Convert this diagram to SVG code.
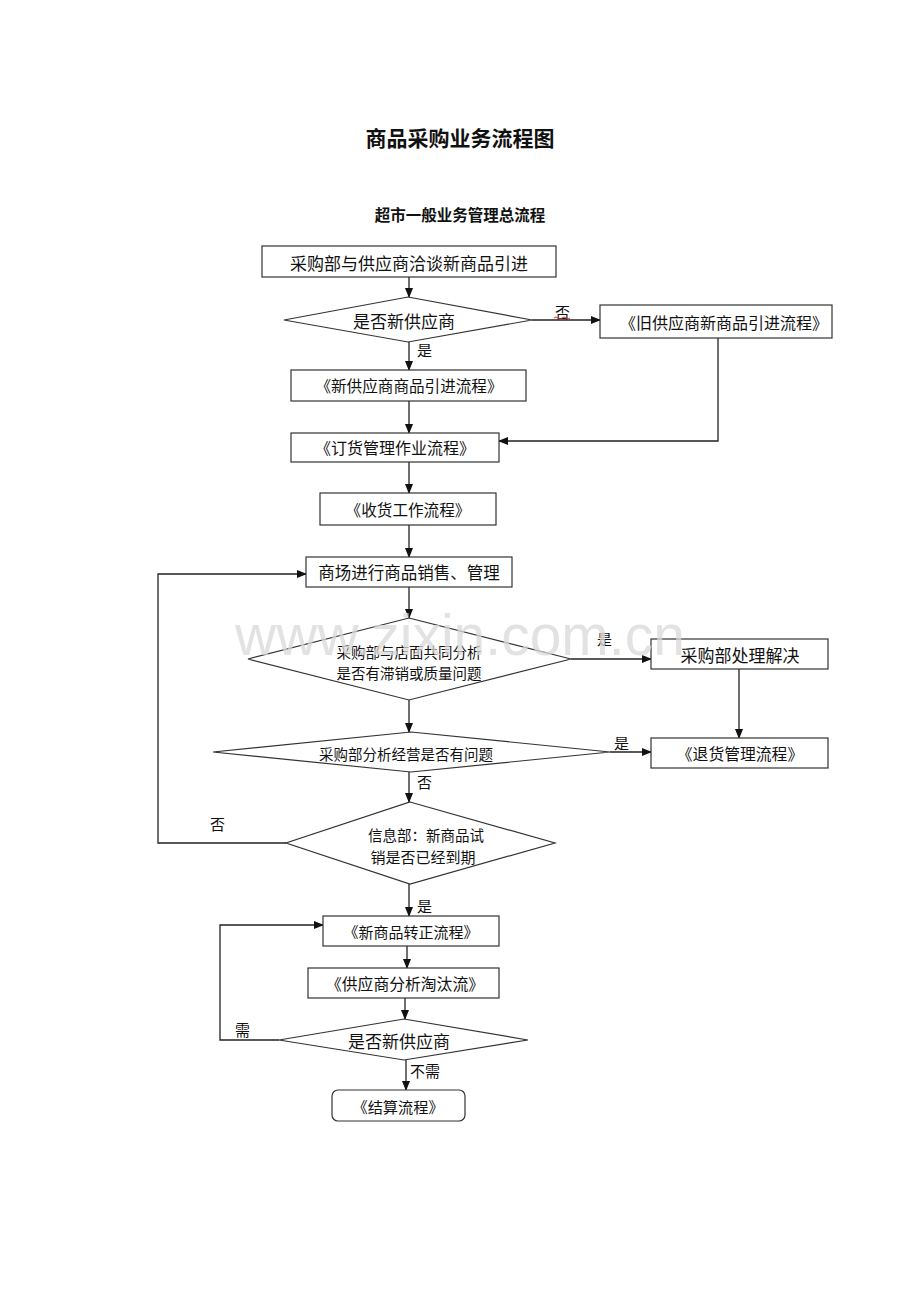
<svg xmlns="http://www.w3.org/2000/svg" width="920" height="1302" viewBox="0 0 920 1302">
<defs>
<marker id="ah" markerWidth="10" markerHeight="8" refX="9" refY="4" orient="auto" markerUnits="userSpaceOnUse">
<path d="M0,0 L10,4 L0,8 Z" fill="#111"/>
</marker>
<style>
.nd{fill:#fff;stroke:#333;stroke-width:1.2}
.t{font-family:"Noto Sans CJK SC",sans-serif;fill:#111;text-anchor:middle;dominant-baseline:central}
.lb{font-family:"Noto Sans CJK SC",sans-serif;fill:#111;font-size:15px;dominant-baseline:central}
.c{fill:none;stroke:#222;stroke-width:1.3}
.ca{fill:none;stroke:#222;stroke-width:1.3;marker-end:url(#ah)}
</style>
</defs>
<rect width="920" height="1302" fill="#fff"/>
<text class="t" x="460" y="137" font-size="21" font-weight="bold">商品采购业务流程图</text>
<text class="t" x="460" y="214" font-size="15.5" font-weight="bold">超市一般业务管理总流程</text>

<g id="connectors">
<path class="ca" d="M409,277 V297"/>
<path class="ca" d="M532,320 H600"/>
<path class="ca" d="M409,342 V370"/>
<path class="ca" d="M718,338 V441 H499"/>
<path class="ca" d="M409,401 V433"/>
<path class="ca" d="M409,462 V493"/>
<path class="ca" d="M409,525 V557"/>
<path class="ca" d="M409,587 V618"/>
<path class="ca" d="M571,659 H651"/>
<path class="ca" d="M739,669 V738"/>
<path class="ca" d="M409,700 V732"/>
<path class="ca" d="M610,752 H651"/>
<path class="ca" d="M409,772 V802"/>
<path class="ca" d="M286,843 H158 V574 H306"/>
<path class="ca" d="M409,884 V916"/>
<path class="ca" d="M407,946 V968"/>
<path class="ca" d="M405,998 V1019"/>
<path class="ca" d="M279,1040 H220 V925 H323"/>
<path class="ca" d="M406,1060 V1090"/>
<text class="lb" x="555" y="311">否</text>
<path d="M554,318 q2,-2 4,0 t4,0 t4,0 t4,0" fill="none" stroke="#d33" stroke-width="1"/>
<text class="lb" x="417" y="349">是</text>
<text class="lb" x="597" y="638">是</text>
<text class="lb" x="614" y="742">是</text>
<text class="lb" x="417" y="781">否</text>
<text class="lb" x="210" y="823">否</text>
<text class="lb" x="417" y="905">是</text>
<text class="lb" x="235" y="1029">需</text>
<text class="lb" x="410" y="1070">不需</text>
</g>

<g id="n1"><rect class="nd" x="262" y="246" width="294" height="31"/><text class="t" x="409" y="262" font-size="17">采购部与供应商洽谈新商品引进</text></g>
<g id="d1"><polygon class="nd" points="408,297 532,320 408,342 284,320"/><text class="t" x="404" y="320" font-size="17">是否新供应商</text></g>
<g id="n2"><rect class="nd" x="600" y="305" width="232" height="33"/><text class="t" x="724" y="322" font-size="16">《旧供应商新商品引进流程》</text></g>
<g id="n3"><rect class="nd" x="291" y="370" width="235" height="31"/><text class="t" x="409" y="385" font-size="15.6">《新供应商商品引进流程》</text></g>
<g id="n4"><rect class="nd" x="291" y="433" width="208" height="29"/><text class="t" x="395" y="447" font-size="16">《订货管理作业流程》</text></g>
<g id="n5"><rect class="nd" x="320" y="493" width="176" height="32"/><text class="t" x="408" y="509" font-size="15.6">《收货工作流程》</text></g>
<g id="n6"><rect class="nd" x="306" y="557" width="206" height="30"/><text class="t" x="409" y="572" font-size="16.5">商场进行商品销售、管理</text></g>
<g id="d2"><polygon class="nd" points="409,618 571,659 409,700 248,659"/><text class="t" x="409" y="651" font-size="14.5">采购部与店面共同分析</text><text class="t" x="409" y="672" font-size="14.5">是否有滞销或质量问题</text></g>
<g id="n7"><rect class="nd" x="651" y="639" width="177" height="30"/><text class="t" x="740" y="654" font-size="17">采购部处理解决</text></g>
<g id="d3"><polygon class="nd" points="411,732 610,752 411,772 213,752"/><text class="t" x="406" y="753" font-size="14.5">采购部分析经营是否有问题</text></g>
<g id="n8"><rect class="nd" x="651" y="738" width="177" height="30"/><text class="t" x="740" y="753" font-size="15.8">《退货管理流程》</text></g>
<g id="d4"><polygon class="nd" points="410,802 555,843 410,884 286,843"/><text class="t" x="426" y="834" font-size="14.5">信息部：新商品试</text><text class="t" x="423" y="856" font-size="15">销是否已经到期</text></g>
<g id="n9"><rect class="nd" x="323" y="916" width="176" height="30"/><text class="t" x="411" y="931" font-size="15">《新商品转正流程》</text></g>
<g id="n10"><rect class="nd" x="308" y="968" width="191" height="30"/><text class="t" x="405" y="983" font-size="15.8">《供应商分析淘汰流》</text></g>
<g id="d5"><polygon class="nd" points="404,1019 528,1040 404,1060 279,1040"/><text class="t" x="399" y="1040" font-size="17">是否新供应商</text></g>
<g id="n11"><rect class="nd" x="332" y="1090" width="133" height="31" rx="6"/><text class="t" x="398" y="1106" font-size="15.2">《结算流程》</text></g>
<text x="460" y="655" font-family="Liberation Sans, sans-serif" font-size="57" fill="#d8d8d8" fill-opacity="0.75" text-anchor="middle">www.zixin.com.cn</text>
</svg>
